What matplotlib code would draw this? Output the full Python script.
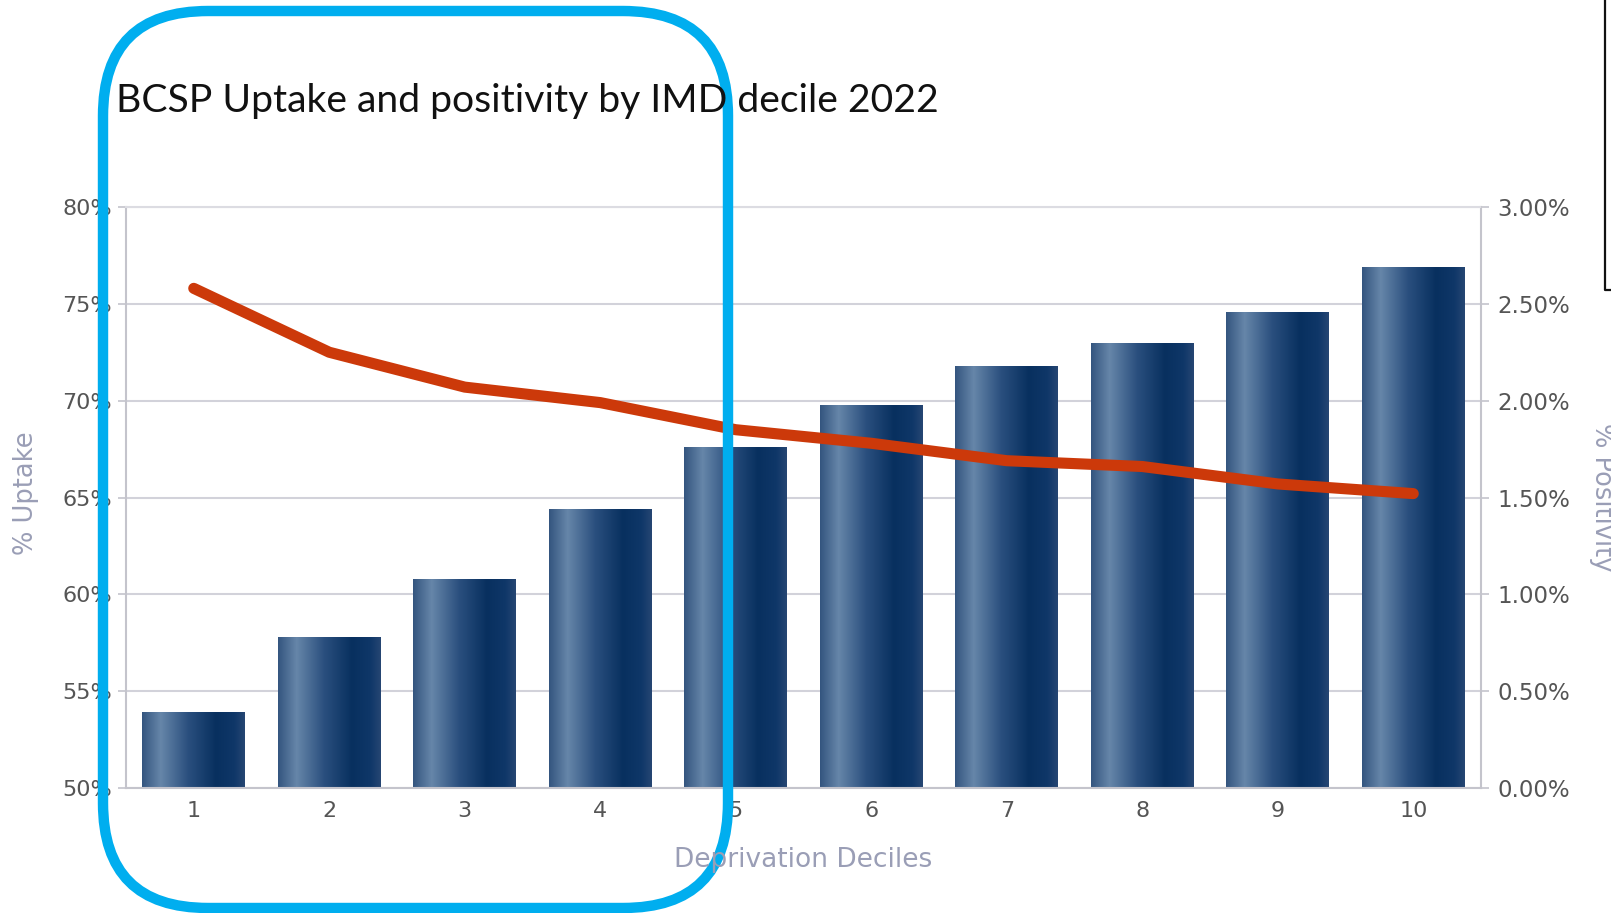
import numpy as np
import matplotlib
matplotlib.use("Agg")
import matplotlib.pyplot as plt
from matplotlib.colors import LinearSegmentedColormap
from matplotlib.patches import FancyBboxPatch
from matplotlib.lines import Line2D

# ---- data ----
deciles = ["1", "2", "3", "4", "5", "6", "7", "8", "9", "10"]
uptake = [53.9, 57.8, 60.8, 64.4, 67.6, 69.8, 71.8, 73.0, 74.6, 76.9]
positivity = [2.58, 2.25, 2.07, 1.99, 1.85, 1.78, 1.69, 1.66, 1.57, 1.52]
left_ticks = [50, 55, 60, 65, 70, 75, 80]
right_ticks = [0.0, 0.5, 1.0, 1.5, 2.0, 2.5, 3.0]

title = "BCSP Uptake and positivity by IMD decile 2022"

W, H = 1611, 913
fig = plt.figure(figsize=(W / 100, H / 100), dpi=100)
fig.patch.set_facecolor("white")

L, R, T, B = 126, 1481, 207, 788
ax = fig.add_axes([L / W, 1 - B / H, (R - L) / W, (B - T) / H])
x = np.arange(len(deciles))
bars = ax.bar(x, uptake, width=0.76, bottom=0, color="#0d3566", zorder=2)

# gradient on bars
cmap = LinearSegmentedColormap.from_list(
    "bar", [(0.0, "#34557f"), (0.18, "#6686a9"), (0.45, "#2a4f7e"),
            (0.72, "#08305f"), (0.9, "#0f3768"), (1.0, "#264673")])
grad = np.linspace(0, 1, 256).reshape(1, -1)
for b in bars:
    x0 = b.get_x()
    w = b.get_width()
    im = ax.imshow(grad, cmap=cmap, aspect="auto",
                   extent=[x0, x0 + w, 50, b.get_height()], zorder=2.5)
    im.set_clip_path(b)
ax.set_xlim(-0.5, len(deciles) - 0.5)
ax.set_ylim(50, 80)

ax.set_yticks(left_ticks)
ax.set_yticklabels([f"{t}%" for t in left_ticks])
ax.set_xticks(x)
ax.set_xticklabels(deciles)
ax.yaxis.grid(True, color="#d2d2da", linewidth=1.5, zorder=0)
ax.set_axisbelow(True)
for s in ["left", "bottom", "right", "top"]:
    ax.spines[s].set_color("#c4c4cc")
    ax.spines[s].set_linewidth(1.5)
ax.spines["top"].set_color("#dcdce2")
ax.tick_params(axis="y", colors="#c4c4cc", labelcolor="#555555",
               labelsize=16, length=6, width=1.2, pad=4)
ax.tick_params(axis="x", colors="#c4c4cc", labelcolor="#555555",
               labelsize=16, length=0, pad=9)

ax2 = ax.twinx()
ax2.plot(x, positivity, color="#cc390a", linewidth=8,
         solid_capstyle="round", solid_joinstyle="round", zorder=5)
ax2.set_ylim(0, 3)
ax2.set_yticks(right_ticks)
ax2.set_yticklabels([f"{t:.2f}%" for t in right_ticks])
ax2.tick_params(axis="y", colors="#c4c4cc", labelcolor="#555555",
                labelsize=16.5, length=6, width=1.2, pad=6)
for s in ["left", "bottom", "right", "top"]:
    ax2.spines[s].set_visible(False)

# axis titles
fig.text(26 / W, 1 - 493 / H, "% Uptake", rotation=90, ha="center",
         va="center", fontsize=18.5, color="#9a9eb6")
fig.text(1589 / W, 1 - 497 / H, "% Positivity", rotation=-90, ha="left",
         va="center", fontsize=18.5, color="#9a9eb6")
fig.text(803 / W, 1 - 860 / H, "Deprivation Deciles", ha="center",
         va="center", fontsize=19, color="#9a9eb6")

# title
fig.text(116 / W, 1 - 101 / H, title, ha="left", va="center",
         fontsize=28.2, color="#111111", family="Lato")

# overlay annotations
ov = fig.add_axes([0, 0, 1, 1], facecolor="none")
ov.set_xlim(0, W)
ov.set_ylim(H, 0)
ov.axis("off")
ov.add_patch(FancyBboxPatch((103, 11), 625, 897,
                            boxstyle="round,pad=0,rounding_size=105",
                            fill=False, edgecolor="#00aeef", linewidth=7.5))
ov.add_line(Line2D([1605, 1605, 1611], [0, 290, 290], color="#111111",
                   linewidth=1.6))

fig.savefig("out.png", dpi=100, facecolor="white")
